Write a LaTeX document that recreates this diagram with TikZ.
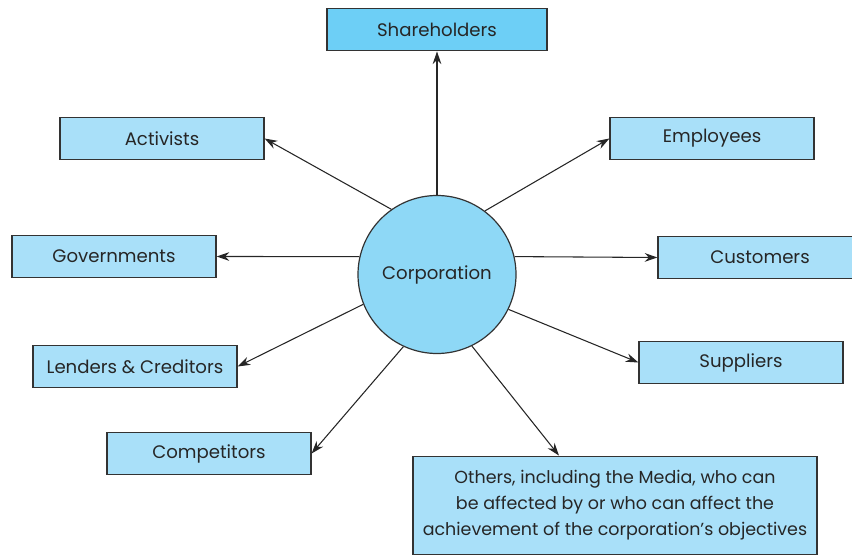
\documentclass[tikz,border=0pt]{standalone}
\usepackage{fontspec}
\setmainfont{Poppins}
\usetikzlibrary{arrows.meta, positioning}
\usepackage{xcolor}
\definecolor{boxblue}{HTML}{A9E0F9}
\definecolor{topblue}{HTML}{6DCFF6}
\definecolor{corpblue}{HTML}{8ED8F6}
\definecolor{edgegray}{HTML}{333333}

\begin{document}
\begin{tikzpicture}[
x=0.75pt, y=-0.75pt,
>={Stealth[length=9.5pt,width=6.5pt]},
every node/.style={font=\fontsize{13.6}{19.5}\selectfont, text=black!85},
party/.style={draw=edgegray, line width=0.9pt, fill=boxblue, minimum width=153pt, minimum height=32pt, inner sep=0pt},
link/.style={->, line width=0.8pt, black!85},
]
\clip (0,0) rectangle (852,556);
\useasboundingbox (0,0) rectangle (852,556);
% nodes
\node[circle, draw=edgegray, line width=0.9pt, fill=corpblue, minimum size=118.5pt] (C) at (437,274.5) {Corporation};
\node[party, fill=topblue, minimum width=165pt] (Sh) at (437,29.5) {Shareholders};
\node[party] (Act) at (162,138.5) {Activists};
\node[party] (Emp) at (712,138.5) {Employees};
\node[party] (Gov) at (114,256.5) {Governments};
\node[party] (Cust) at (760,257.5) {Customers};
\node[party] (Lend) at (135,366.5) {Lenders \& Creditors};
\node[party] (Sup) at (741,362.5) {Suppliers};
\node[party] (Comp) at (209,453.5) {Competitors};
\node[party, minimum width=303pt, minimum height=74pt, align=center, font=\fontsize{13.1}{19.5}\selectfont] (Oth) at (615,505.5)
  {Others, including the Media, who can\\be affected by or who can affect the\\achievement of the corporation's objectives};
% arrows
\draw[link] (C.north) -- (Sh.south);
\draw[link] (C.125) -- (Act.east);
\draw[link] (C.53) -- (Emp.west);
\draw[link] (C.167) -- (Gov.east);
\draw[link] (C.13) -- (Cust.west);
\draw[link] (C.202) -- (Lend.east);
\draw[link] (C.334) -- (Sup.west);
\draw[link] (C.245) -- (Comp.east);
\draw[link] (C.296) -- ([xshift=-42pt]Oth.north);
\end{tikzpicture}
\end{document}
